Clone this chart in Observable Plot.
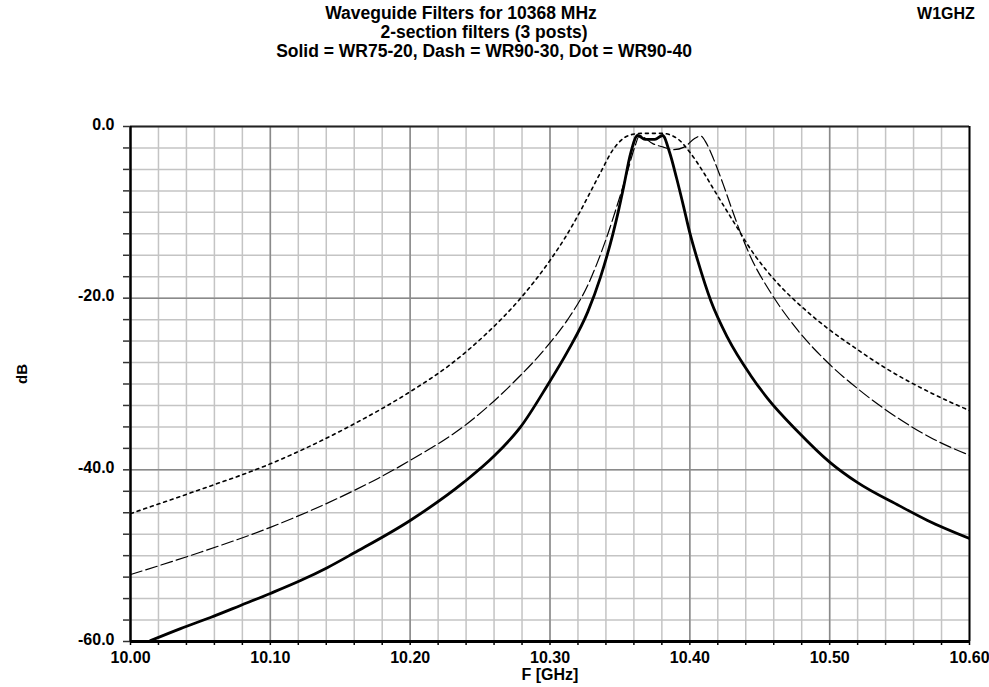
<!DOCTYPE html>
<html>
<head>
<meta charset="utf-8">
<script src="https://cdn.jsdelivr.net/npm/d3@7"></script>
<script src="https://cdn.jsdelivr.net/npm/@observablehq/plot@0.6"></script>
<style>
  html, body { margin: 0; padding: 0; background: #fff; }
  #chart svg { display: block; }
</style>
</head>
<body>
<div id="chart"></div>
<script>
// ---- Data ----
const solidF  = [10.0143, 10.0358, 10.0572, 10.0787, 10.10, 10.1216, 10.1407, 10.1597, 10.20, 10.238, 10.26, 10.279, 10.298, 10.3126, 10.327, 10.336, 10.345, 10.349, 10.3526, 10.3577, 10.3627, 10.368, 10.375, 10.3805, 10.3855, 10.3905, 10.3955, 10.400, 10.4056, 10.415, 10.427, 10.4435, 10.4557, 10.477, 10.50, 10.52, 10.55, 10.57, 10.60];
const solidDB = [-59.9, -58.5, -57.2, -55.8, -54.4, -52.9, -51.4, -49.7, -45.9, -41.5, -38.4, -35.0, -30.2, -26.2, -21.6, -17.6, -12.5, -9.8, -7.1, -3.1, -1.05, -1.5, -1.5, -1.05, -3.0, -6.0, -9.3, -12.4, -15.6, -20.3, -24.6, -29.0, -31.7, -35.5, -39.1, -41.5, -44.2, -45.9, -48.0];

const dashF  = [10.00, 10.05, 10.10, 10.16, 10.177, 10.20, 10.241, 10.274, 10.298, 10.3126, 10.327, 10.334, 10.341, 10.348, 10.3555, 10.361, 10.364, 10.3735, 10.381, 10.388, 10.396, 10.4034, 10.4077, 10.412, 10.417, 10.424, 10.430, 10.437, 10.4435, 10.458, 10.477, 10.4986, 10.522, 10.551, 10.574, 10.60];
const dashDB = [-52.2, -49.6, -46.7, -42.4, -41.0, -38.9, -34.6, -29.8, -25.6, -22.5, -18.5, -15.8, -12.7, -9.2, -5.2, -2.2, -1.05, -2.0, -2.4, -2.7, -2.4, -1.4, -1.1, -2.0, -3.8, -6.8, -9.6, -12.7, -15.2, -19.4, -23.7, -27.5, -30.8, -34.2, -36.4, -38.3];

const dotF  = [10.00, 10.0215, 10.048, 10.10, 10.125, 10.157, 10.20, 10.229, 10.2554, 10.279, 10.300, 10.311, 10.3219, 10.329, 10.336, 10.3455, 10.3555, 10.365, 10.38, 10.391, 10.40, 10.41, 10.417, 10.429, 10.446, 10.463, 10.4814, 10.50, 10.52, 10.5365, 10.572, 10.60];
const dotDB = [-45.1, -43.9, -42.4, -39.3, -37.5, -34.9, -30.9, -27.7, -24.0, -20.0, -15.6, -12.9, -9.8, -7.6, -5.4, -2.6, -1.1, -0.8, -0.8, -1.4, -3.0, -5.4, -7.3, -10.5, -14.9, -18.3, -21.2, -23.7, -26.0, -27.8, -31.0, -33.1];

// ---- Axis / grid values ----
const xLabelTicks = [10.0, 10.1, 10.2, 10.3, 10.4, 10.5, 10.6];
const xMinorTicks = d3.range(0, 31).map(i => +(10 + i * 0.02).toFixed(2));
const yLabelTicks = [0, -20, -40, -60];
const yMinorTicks = d3.range(0, 25).map(i => -i * 2.5);
const xMajorGrid = [10.1, 10.2, 10.3, 10.4, 10.5];
const yMajorGrid = [-20, -40];

const titleLines = [
  "Waveguide Filters for 10368 MHz",
  "2-section filters (3 posts)",
  "Solid = WR75-20, Dash = WR90-30, Dot = WR90-40"
];
const cornerText = "W1GHZ";
const xLabel = "F [GHz]";
const yLabel = "dB";

const toRows = (f, v) => f.map((x, i) => ({f: x, db: v[i]}));
const solid = toRows(solidF, solidDB);
const dash = toRows(dashF, dashDB);
const dot = toRows(dotF, dotDB);

const font = "'Liberation Sans', Arial, sans-serif";

const chart = Plot.plot({
  width: 989,
  height: 687,
  marginLeft: 130,
  marginRight: 20,
  marginTop: 126,
  marginBottom: 46,
  style: {fontFamily: font, fontWeight: "bold", fontSize: "16px", color: "#000", background: "#fff"},
  x: {domain: [10, 10.6], axis: null},
  y: {domain: [-60, 0], axis: null},
  marks: [
    // grid
    Plot.ruleX(xMinorTicks, {stroke: "#c4c4c4", strokeWidth: 1.5}),
    Plot.ruleY(yMinorTicks, {stroke: "#c4c4c4", strokeWidth: 1.5}),
    Plot.ruleX(xMajorGrid, {stroke: "#8a8a8a", strokeWidth: 1.5}),
    Plot.ruleY(yMajorGrid, {stroke: "#8a8a8a", strokeWidth: 1.5}),
    // frame
    Plot.ruleY([0], {stroke: "#222", strokeWidth: 2}),
    Plot.ruleX([10.6], {stroke: "#000", strokeWidth: 2}),
    // curves
    Plot.line(dot, {x: "f", y: "db", stroke: "#000", strokeWidth: 1.6, strokeDasharray: "3,4", curve: "monotone-x", clip: true}),
    Plot.line(dash, {x: "f", y: "db", stroke: "#000", strokeWidth: 1.2, strokeDasharray: "12,4", curve: "monotone-x", clip: true}),
    Plot.line(solid, {x: "f", y: "db", stroke: "#000", strokeWidth: 2.8, curve: "monotone-x", clip: true}),
    // axis lines
    Plot.ruleX([10], {stroke: "#000", strokeWidth: 2.5}),
    Plot.ruleY([-60], {stroke: "#000", strokeWidth: 3}),
    // y axis ticks & labels
    Plot.axisY({ticks: yMinorTicks, tickSize: 7, text: null, label: null, stroke: "#333", strokeWidth: 1.5}),
    Plot.axisY({ticks: yLabelTicks, tickSize: 0, tickPadding: 16, label: null, tickFormat: d => d.toFixed(1), fontSize: 16, fontWeight: "bold", dy: -2}),
    // x axis ticks & labels
    Plot.axisX({ticks: xMinorTicks, tickSize: 4, text: null, label: null, stroke: "#000", strokeWidth: 1.5}),
    Plot.axisX({ticks: xLabelTicks, tickSize: 0, tickPadding: 10, label: null, tickFormat: d => d.toFixed(2), fontSize: 16, fontWeight: "bold"}),
    // axis titles
    Plot.text([xLabel], {frameAnchor: "bottom", dy: 38, fontSize: 16, fontWeight: "bold"}),
    Plot.text([yLabel], {frameAnchor: "left", dx: -108, rotate: -90, fontSize: 15, fontWeight: "bold"})
  ]
});

// Title lines and corner text in the same SVG
const svg = d3.select(chart);
const titleX = [461, 484, 484];
titleLines.forEach((t, i) => {
  svg.append("text")
    .attr("x", titleX[i]).attr("y", 19 + i * 19)
    .attr("text-anchor", "middle")
    .attr("font-family", font).attr("font-weight", "bold").attr("font-size", 17.5)
    .attr("fill", "#000")
    .text(t);
});
svg.append("text")
  .attr("x", 946).attr("y", 19)
  .attr("text-anchor", "middle")
  .attr("font-family", font).attr("font-weight", "bold").attr("font-size", 16)
  .attr("fill", "#000")
  .text(cornerText);

document.getElementById("chart").appendChild(chart);
</script>
</body>
</html>
